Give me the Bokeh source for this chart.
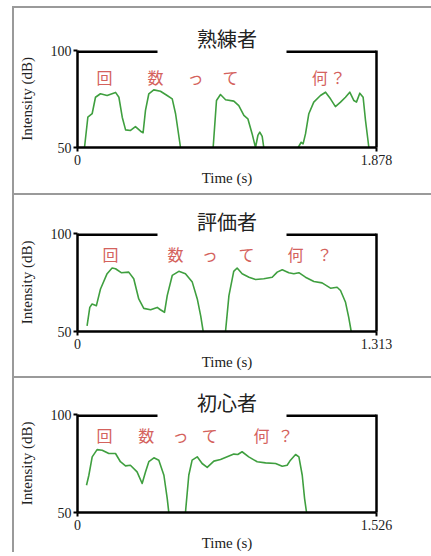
from bokeh.plotting import figure
from bokeh.models import Range1d, FixedTicker, LinearAxis
from bokeh.layouts import column
from bokeh.embed import file_html
from bokeh.resources import INLINE
from bokeh.core.properties import value

nan = float("nan")

panel_titles = ["熟練者", "評価者", "初心者"]
durations = [1.878, 1.313, 1.526]
y_ticks = [50, 100]
syllables = ["回", "数", "っ", "て", "何", "？"]

expert_time = [0.044, 0.065, 0.092, 0.113, 0.144, 0.186, 0.239, 0.260, 0.281, 0.302, 0.333, 0.364,
               0.396, 0.412, 0.427, 0.448, 0.479, 0.521, 0.563, 0.595, 0.616, 0.647, nan,
               0.852, 0.873, 0.898, 0.930, 0.982, 1.013, 1.045, 1.070, 1.097, 1.118, 1.133, 1.145,
               1.160, 1.170, nan,
               1.386, 1.405, 1.417, 1.432, 1.453, 1.484, 1.526, 1.558, 1.589, 1.620, 1.652, 1.683,
               1.710, 1.736, 1.752, 1.773, 1.794, 1.809, 1.830]
expert_db = [50, 65.6, 67.4, 75.9, 77.7, 76.8, 78.4, 75.9, 65.6, 59.1, 58.8, 60.8,
             58.4, 57.6, 69.1, 77.7, 79.7, 79.0, 76.8, 75.1, 67.4, 50, nan,
             50, 74.2, 77.3, 74.6, 73.9, 71.6, 66.5, 64.8, 57.0, 50, 56.2, 57.9,
             55.7, 50, nan,
             50, 52.7, 51.9, 57.0, 67.4, 73.4, 76.8, 78.5, 75.1, 71.1, 73.4, 75.9,
             78.5, 74.2, 73.4, 78.0, 75.9, 63.9, 50]

evaluator_time = [0.042, 0.054, 0.064, 0.083, 0.101, 0.130, 0.152, 0.167, 0.192, 0.225, 0.247, 0.269,
                  0.291, 0.321, 0.350, 0.364, 0.382, 0.394, 0.416, 0.445, 0.474, 0.504, 0.526, 0.541,
                  0.552, nan,
                  0.650, 0.665, 0.686, 0.701, 0.723, 0.753, 0.782, 0.818, 0.855, 0.877, 0.899, 0.928,
                  0.950, 0.972, 1.001, 1.038, 1.074, 1.111, 1.140, 1.155, 1.177, 1.191, 1.202]
evaluator_db = [52.9, 62.3, 64.0, 63.2, 71.7, 79.5, 82.4, 82.0, 80.0, 80.3, 76.9, 66.6,
                61.8, 61.1, 62.3, 61.1, 59.8, 68.3, 78.6, 80.7, 79.5, 75.2, 66.6, 58.0,
                50, nan,
                50, 68.3, 80.7, 82.4, 79.5, 77.7, 76.5, 76.9, 77.7, 80.3, 81.5, 80.0,
                79.5, 80.0, 77.7, 75.5, 74.8, 72.1, 72.6, 70.9, 64.9, 57.2, 50]

novice_time = [0.046, 0.058, 0.075, 0.100, 0.126, 0.160, 0.194, 0.219, 0.245, 0.270, 0.304, 0.330,
               0.347, 0.364, 0.390, 0.415, 0.441, 0.458, 0.466, nan,
               0.551, 0.568, 0.585, 0.611, 0.636, 0.662, 0.696, 0.730, 0.764, 0.798, 0.818, 0.840,
               0.874, 0.917, 0.960, 1.011, 1.045, 1.070, 1.087, 1.113, 1.130, 1.147, 1.159, 1.169]
novice_db = [63.9, 69.0, 78.4, 82.1, 81.8, 80.1, 80.1, 75.9, 73.8, 74.1, 70.7, 64.8,
             70.7, 75.9, 77.9, 76.7, 69.0, 57.1, 50, nan,
             50, 69.0, 76.7, 78.4, 75.0, 73.0, 76.2, 77.0, 78.4, 79.8, 79.6, 81.0,
             78.4, 75.9, 75.3, 75.0, 73.6, 74.1, 76.7, 79.6, 78.4, 69.0, 57.1, 50]

expert_syllable_time = [0.170, 0.490, 0.741, 0.961, 1.522, 1.635]
evaluator_syllable_time = [0.145, 0.430, 0.581, 0.742, 0.957, 1.085]
novice_syllable_time = [0.138, 0.351, 0.526, 0.675, 0.939, 1.062]
syllable_db = [86.2, 89.3, 89.4]

SERIF = "Liberation Serif"
CJK = "Noto Sans CJK JP"
GREEN = "#3f9f3f"
RED = "#d4625d"
GRAY = "#9a9a9a"

FRAME_W = 299           # frame width in pixels
GAP_LEFT, GAP_RIGHT = 80, 209   # gap in the top border, pixels from frame's left edge


def style_axis(ax):
    ax.axis_line_color = "black"
    ax.axis_line_width = 2.5
    ax.major_tick_line_color = "black"
    ax.major_tick_line_width = 2
    ax.major_tick_out = 4
    ax.major_tick_in = 0
    ax.minor_tick_line_color = None
    ax.major_label_text_font = SERIF
    ax.major_label_text_font_size = "14px"
    ax.major_label_text_color = "#222222"
    ax.axis_label_text_font = SERIF
    ax.axis_label_text_font_size = "15px"
    ax.axis_label_text_font_style = "normal"
    ax.axis_label_text_color = "#222222"


def build(title, dur, t, db, syl_t, syl_y, height, top, bottom, standoff, styles):
    p = figure(width=417, height=height, output_backend="svg", toolbar_location=None,
               x_range=Range1d(0, dur), y_range=Range1d(50, 100),
               min_border_left=63, min_border_right=55, min_border_top=top,
               min_border_bottom=bottom, styles=styles)
    p.grid.visible = False
    p.outline_line_color = None

    p.title.text = title
    p.title.align = "center"
    p.title.offset = -6
    p.title.standoff = standoff
    p.title.text_font = CJK
    p.title.text_font_size = "20px"
    p.title.text_font_style = "normal"
    p.title.text_color = "#222222"

    xa = p.xaxis[0]
    xa.ticker = FixedTicker(ticks=[0, dur])
    xa.major_label_overrides = {0: "0", dur: f"{dur:.3f}"}
    ya = p.yaxis[0]
    ya.ticker = FixedTicker(ticks=y_ticks)
    style_axis(xa)
    style_axis(ya)
    xa.axis_label = "Time (s)"
    xa.major_label_standoff = 3
    xa.axis_label_standoff = 2
    ya.axis_label = "Intensity (dB)"
    ya.major_label_standoff = 2
    ya.axis_label_standoff = 13

    ra = LinearAxis(ticker=FixedTicker(ticks=[]), axis_line_color="black", axis_line_width=2.5,
                    major_label_text_font_size="0px", minor_tick_line_color=None,
                    major_tick_line_color=None)
    p.add_layout(ra, "right")

    # top border with a gap for the title (clipped to the frame, so double width)
    g0 = dur * GAP_LEFT / FRAME_W
    g1 = dur * GAP_RIGHT / FRAME_W
    p.segment(x0=[0, g1], y0=[100, 100], x1=[g0, dur], y1=[100, 100],
              line_color="black", line_width=5, line_cap="butt")

    p.line(t, db, line_color=GREEN, line_width=1.6, line_join="round")
    p.text(x=syl_t, y=[syl_y] * len(syl_t), text=syllables,
           text_font=value(CJK), text_font_size="16px", text_color=RED,
           text_align="center", text_baseline="middle")
    return p


p1 = build(panel_titles[0], durations[0], expert_time, expert_db, expert_syllable_time,
           syllable_db[0], 185, 42, 46, -5, {})
p2 = build(panel_titles[1], durations[1], evaluator_time, evaluator_db, evaluator_syllable_time,
           syllable_db[1], 183, 38, 47, -4, {"border-top": f"2px solid {GRAY}"})
p3 = build(panel_titles[2], durations[2], novice_time, novice_db, novice_syllable_time,
           syllable_db[2], 176, 36, 42, -4, {"border-top": f"2px solid {GRAY}"})

layout = column(p1, p2, p3, spacing=0,
                styles={"margin-left": "12px", "margin-top": "6px",
                        "border-left": f"2px solid {GRAY}", "border-top": f"2px solid {GRAY}"})

open("out.html", "w").write(file_html(layout, INLINE))
